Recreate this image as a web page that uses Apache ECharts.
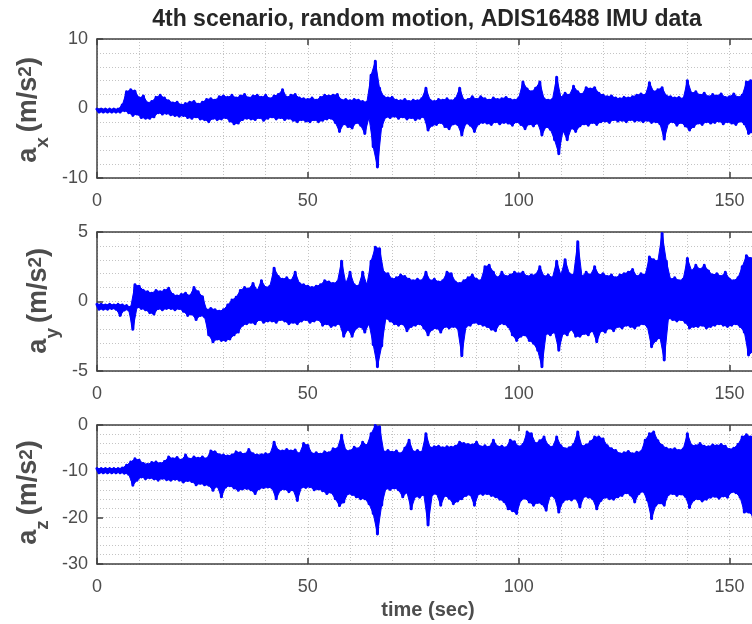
<!DOCTYPE html>
<html>
<head>
<meta charset="utf-8">
<script src="https://cdn.jsdelivr.net/npm/echarts@6/dist/echarts.min.js"></script>
<style>
  html, body { margin: 0; padding: 0; background: #ffffff; }
  #chart { width: 752px; height: 624px; }
</style>
</head>
<body>
<div id="chart"></div>
<script>
// ADIS16488 accelerometer record, 4th scenario (random motion).
// Each channel is kept as a per-second envelope: the upper and lower
// excursion of the signal within every one-second window (t = 0 … 156 s).

const timeTicks = [0, 50, 100, 150];
const timeMax = 156.5;

const axTicks = [-10, 0, 10];
const ayTicks = [-5, 0, 5];
const azTicks = [-30, -20, -10, 0];

const axHi = [
  -0.1, -0.1, -0.1, -0.1, -0.1, -0.1, 0.5, 2.4, 2.7, 2.5,
  1.5, 1.8, 0.8, 1.0, 1.6, 1.9, 1.5, 1.1, 0.8, 0.9,
  0.5, 0.7, 0.9, 1.0, 0.6, 0.9, 1.3, 1.4, 1.2, 1.7,
  1.8, 1.6, 1.9, 1.5, 1.8, 2.0, 1.5, 1.8, 1.9, 1.6,
  1.9, 1.4, 1.8, 2.0, 2.7, 1.6, 1.9, 2.0, 1.5, 1.4,
  1.3, 1.5, 1.2, 1.6, 1.9, 1.8, 1.9, 2.0, 1.2, 1.3,
  1.1, 1.3, 1.2, 1.0, 0.9, 4.8, 6.8, 2.9, 1.7, 1.5,
  1.6, 1.2, 1.1, 1.3, 1.0, 1.2, 1.1, 1.4, 2.9, 1.2,
  1.0, 1.3, 1.2, 1.4, 1.1, 1.4, 2.9, 1.2, 1.3, 1.7,
  1.3, 1.7, 1.4, 1.2, 1.5, 1.3, 1.4, 1.6, 1.3, 1.2,
  1.5, 3.8, 2.8, 2.4, 2.9, 3.8, 1.4, 1.2, 1.3, 4.5,
  1.6, 2.2, 1.9, 3.2, 2.4, 2.0, 3.0, 2.8, 3.0, 2.2,
  1.9, 1.7, 1.8, 1.5, 1.4, 1.6, 1.5, 1.7, 1.9, 2.1,
  1.9, 3.7, 2.4, 2.7, 3.0, 1.8, 1.7, 1.5, 1.6, 1.4,
  4.0, 2.2, 2.4, 1.9, 2.2, 1.7, 2.0, 1.8, 2.1, 1.6,
  1.7, 2.1, 1.6, 1.9, 3.8, 4.0, 2.5
];
const axLo = [
  -0.5, -0.5, -0.5, -0.5, -0.5, -0.5, -0.3, -0.6, -1.0, -0.8,
  -1.3, -1.4, -1.4, -1.2, -0.6, -0.8, -0.7, -0.9, -1.0, -1.1,
  -1.0, -1.3, -1.4, -1.2, -1.5, -1.6, -1.9, -1.4, -1.6, -1.5,
  -1.3, -1.8, -2.2, -2.1, -1.6, -1.4, -1.5, -1.6, -1.3, -1.7,
  -1.4, -1.2, -1.5, -1.3, -1.6, -1.4, -1.7, -1.9, -1.6, -1.8,
  -1.9, -1.6, -1.9, -1.7, -1.5, -1.4, -2.0, -3.3, -2.2, -2.6,
  -2.8, -2.0, -2.4, -3.6, -1.3, -5.5, -8.4, -2.6, -1.2, -1.3,
  -1.1, -1.4, -1.2, -1.5, -1.3, -1.6, -1.4, -1.2, -3.1, -2.4,
  -2.3, -2.0, -2.6, -2.9, -2.2, -2.3, -3.8, -2.1, -2.4, -3.3,
  -2.2, -2.0, -2.1, -2.3, -1.9, -2.2, -2.0, -2.1, -2.4, -1.9,
  -2.3, -2.9, -2.2, -2.5, -2.1, -3.8, -2.6, -3.0, -4.5, -6.5,
  -3.2, -4.5, -2.8, -3.3, -2.5, -2.2, -2.4, -2.0, -2.3, -1.9,
  -1.8, -2.0, -1.6, -1.8, -1.7, -1.9, -1.6, -1.8, -1.7, -1.9,
  -1.7, -2.0, -1.9, -2.2, -4.4, -2.1, -1.9, -2.4, -2.0, -2.5,
  -3.1, -2.6, -2.1, -2.3, -1.9, -2.1, -2.0, -1.8, -2.2, -1.9,
  -2.1, -2.3, -1.8, -2.2, -3.6, -3.4, -2.8
];

const ayHi = [
  -0.2, -0.2, -0.25, -0.2, -0.25, -0.2, -0.25, -0.3, -0.4, 1.2,
  1.1, 0.8, 0.7, 0.6, 0.8, 0.7, 0.8, 0.95, 0.5, 0.4,
  0.5, 0.6, 0.4, 1.0, 0.7, 0.35, -0.6, -0.5, -0.6, -0.7,
  -0.6, -0.25, 0.1, 0.3, 0.8, 1.0, 0.9, 1.3, 0.8, 1.5,
  1.0, 1.1, 2.4, 1.8, 1.6, 1.7, 1.5, 2.1, 1.3, 1.2,
  1.1, 1.0, 1.1, 1.2, 1.5, 1.4, 1.3, 1.4, 2.9, 1.3,
  2.1, 1.2, 1.1, 2.1, 1.2, 2.9, 3.9, 3.8, 2.1, 2.0,
  1.6, 1.7, 1.9, 1.8, 1.6, 1.5, 1.6, 1.5, 2.1, 1.5,
  1.6, 1.4, 1.5, 2.1, 2.0, 1.4, 1.3, 1.5, 1.7, 1.9,
  1.6, 1.5, 2.5, 2.6, 2.1, 1.7, 2.1, 1.8, 1.9, 2.1,
  2.0, 2.1, 1.8, 1.9, 1.9, 2.5, 1.8, 1.9, 1.7, 2.9,
  1.9, 3.0, 2.0, 1.9, 4.3, 1.8, 2.1, 1.9, 2.5, 1.9,
  2.0, 1.8, 1.9, 1.7, 1.9, 2.0, 2.1, 2.3, 1.8, 2.0,
  1.9, 3.2, 3.0, 2.9, 4.9, 2.9, 1.6, 1.7, 1.5, 1.6,
  3.1, 2.2, 2.6, 2.3, 2.6, 2.2, 1.9, 2.0, 1.8, 2.1,
  1.6, 1.5, 1.7, 2.5, 3.3, 3.1, 2.4
];
const ayLo = [
  -0.55, -0.55, -0.55, -0.5, -0.55, -1.0, -0.6, -0.6, -2.0, -0.4,
  -0.5, -0.6, -0.8, -0.9, -0.5, -0.6, -0.5, -0.5, -0.6, -0.5,
  -0.7, -1.0, -0.9, -1.3, -1.0, -1.1, -2.4, -2.9, -2.7, -2.8,
  -2.8, -2.7, -2.4, -2.2, -1.7, -1.6, -1.5, -1.6, -1.3, -1.5,
  -1.4, -1.4, -1.5, -1.3, -1.4, -1.6, -1.5, -1.6, -1.4, -1.3,
  -1.5, -1.4, -1.3, -1.7, -1.6, -1.8, -1.7, -1.6, -2.5, -2.0,
  -2.5, -1.9, -1.8, -2.2, -1.6, -3.1, -4.7, -3.2, -1.2, -1.4,
  -1.6, -1.7, -1.6, -2.1, -1.8, -1.7, -1.6, -1.9, -2.4, -2.0,
  -1.9, -2.2, -1.8, -1.9, -1.8, -1.9, -3.9, -1.8, -1.7, -1.5,
  -1.6, -1.7, -1.8, -2.0, -2.1, -1.6, -1.6, -1.8, -2.4, -2.8,
  -2.5, -2.4, -2.8, -3.0, -3.5, -4.7, -2.3, -2.4, -2.2, -3.5,
  -2.3, -2.4, -2.0, -2.5, -2.5, -2.3, -2.4, -2.1, -2.9, -2.1,
  -2.2, -1.9, -2.1, -1.8, -1.9, -1.7, -1.8, -1.9, -1.7, -1.6,
  -1.8, -3.25, -2.8, -2.6, -4.2, -1.2, -1.3, -1.4, -1.3, -1.5,
  -1.9, -1.8, -1.8, -1.7, -1.9, -1.8, -1.7, -1.6, -1.7, -1.8,
  -1.7, -1.6, -1.8, -2.2, -3.85, -3.6, -2.6
];

const azHi = [
  -9.4, -9.4, -9.4, -9.4, -9.4, -9.4, -9.3, -8.7, -8.0, -7.3,
  -7.6, -8.3, -8.5, -8.1, -8.0, -8.3, -7.9, -6.9, -7.3, -7.0,
  -7.6, -6.5, -7.4, -6.9, -7.2, -6.9, -7.3, -5.6, -5.8, -6.4,
  -6.5, -6.7, -6.5, -5.8, -6.0, -6.3, -5.3, -6.2, -6.5, -6.4,
  -6.2, -6.3, -3.7, -5.5, -5.6, -5.3, -5.6, -5.4, -6.2, -4.0,
  -4.4, -6.2, -6.0, -6.3, -5.8, -6.0, -5.1, -5.1, -2.2, -5.5,
  -5.6, -4.8, -5.1, -3.7, -4.4, -1.9, -0.1, -0.4, -5.8, -5.5,
  -5.9, -5.6, -6.2, -5.0, -3.3, -5.8, -5.5, -5.9, -1.9, -4.9,
  -4.7, -4.6, -4.9, -4.7, -4.8, -4.6, -3.7, -4.0, -4.2, -4.3,
  -3.7, -4.7, -4.5, -4.8, -3.3, -4.7, -4.6, -4.9, -3.3, -3.6,
  -4.7, -4.2, -1.5, -1.9, -4.0, -3.4, -2.6, -4.4, -4.8, -2.6,
  -4.5, -5.1, -4.9, -4.2, -1.5, -4.6, -4.3, -3.6, -2.6, -2.6,
  -3.0, -4.5, -5.1, -5.5, -6.2, -6.0, -5.7, -6.2, -5.9, -5.8,
  -3.3, -1.9, -1.5, -3.4, -4.4, -5.0, -5.3, -5.1, -5.5, -5.2,
  -1.9, -4.4, -4.5, -4.0, -4.6, -4.7, -4.3, -4.5, -4.2, -4.6,
  -5.3, -5.0, -4.2, -2.6, -2.1, -2.6, -3.5
];
const azLo = [
  -10.3, -10.3, -10.3, -10.3, -10.3, -10.3, -10.4, -10.6, -13.0, -11.9,
  -11.2, -11.6, -11.4, -11.6, -11.9, -11.5, -11.8, -11.9, -11.7, -11.9,
  -12.3, -12.0, -12.2, -12.9, -12.6, -12.9, -13.0, -14.1, -13.2, -15.5,
  -13.4, -13.1, -13.6, -14.1, -13.8, -13.7, -14.0, -14.8, -13.7, -13.5,
  -13.4, -13.6, -15.9, -14.0, -13.8, -14.4, -14.0, -16.3, -13.4, -13.5,
  -13.3, -14.0, -13.8, -14.2, -14.8, -14.5, -15.9, -17.4, -16.6, -14.8,
  -15.0, -15.5, -15.9, -15.9, -17.0, -19.1, -23.5, -17.3, -13.7, -13.9,
  -13.6, -14.0, -15.5, -14.5, -18.1, -15.4, -15.6, -15.0, -21.6, -15.0,
  -14.8, -17.3, -15.2, -15.8, -17.0, -16.4, -15.9, -15.2, -15.0, -17.3,
  -14.8, -15.0, -14.8, -15.2, -15.5, -16.0, -16.5, -18.1, -18.5, -19.1,
  -16.2, -15.8, -16.6, -17.3, -16.7, -17.0, -18.4, -15.2, -15.6, -18.8,
  -16.5, -16.0, -16.2, -15.8, -17.7, -15.4, -15.6, -15.9, -18.1, -16.3,
  -15.6, -15.9, -16.0, -15.5, -15.2, -14.6, -15.1, -16.6, -14.8, -14.3,
  -16.2, -20.2, -17.3, -16.8, -17.3, -15.0, -14.8, -15.2, -14.9, -15.4,
  -17.8, -16.2, -15.9, -16.4, -16.0, -15.6, -15.4, -15.8, -15.3, -15.6,
  -14.4, -14.6, -15.6, -18.8, -18.8, -19.5, -17.5
];

// ---------------------------------------------------------------------------

const FONT = '"Liberation Sans", Arial, Helvetica, sans-serif';
const AXIS_COLOR = '#404040';
const LABEL_COLOR = '#4d4d4d';
const GRID_COLOR = '#c4c4c4';
const LINE_BLUE = '#0000ff';

// Dense trace: the upper value at the start of each second and the lower
// value half a second later.
function envelopeTrace(hi, lo) {
  const pts = [];
  for (let i = 0; i < hi.length; i++) {
    pts.push([i, hi[i]]);
    pts.push([i + 0.5, lo[i]]);
  }
  return pts;
}

// Filled body of the trace: one polygon along the upper points and back
// along the lower points, placed through the axis scales.
function bandRenderer(hi, lo) {
  return function (params, api) {
    if (params.dataIndex !== 0) return null;
    const pts = [];
    for (let i = 0; i < hi.length; i++) pts.push(api.coord([i, hi[i]]));
    for (let i = lo.length - 1; i >= 0; i--) pts.push(api.coord([i + 0.5, lo[i]]));
    return {
      type: 'polygon',
      shape: { points: pts },
      style: { fill: LINE_BLUE, stroke: LINE_BLUE, lineWidth: 1 }
    };
  };
}

const panels = [
  { hi: axHi, lo: axLo, ticks: axTicks, sub: 'x', top: 39,  baseX: 36.7, midY: 109.9 },
  { hi: ayHi, lo: ayLo, ticks: ayTicks, sub: 'y', top: 232, baseX: 46.6, midY: 300.8 },
  { hi: azHi, lo: azLo, ticks: azTicks, sub: 'z', top: 425, baseX: 37.3, midY: 492.5 }
];
const PANEL_LEFT = 97;
const PANEL_WIDTH = 660;
const PANEL_HEIGHT = 139;

const dotted = { color: GRID_COLOR, width: 1, type: [1, 2] };

const grids = [], xAxes = [], yAxes = [], series = [];

panels.forEach((p, i) => {
  grids.push({
    left: PANEL_LEFT, top: p.top, width: PANEL_WIDTH, height: PANEL_HEIGHT,
    outerBoundsMode: 'none', show: false
  });

  const step = p.ticks[1] - p.ticks[0];
  const xCommon = {
    gridIndex: i, type: 'value',
    min: timeTicks[0], max: timeMax, interval: timeTicks[1] - timeTicks[0],
    axisLine: { show: true, onZero: false, lineStyle: { color: AXIS_COLOR, width: 1.5 } },
    axisTick: { show: true, inside: true, length: 6, lineStyle: { color: AXIS_COLOR, width: 1.5 } }
  };
  xAxes.push(Object.assign({}, xCommon, {
    position: 'bottom',
    axisLabel: {
      show: true, color: LABEL_COLOR, fontSize: 18, fontFamily: FONT, margin: 14,
      showMaxLabel: false,
      formatter: v => (timeTicks.indexOf(v) >= 0 ? String(v) : '')
    },
    splitLine: { show: true, lineStyle: dotted },
    minorTick: { show: true, splitNumber: 5, length: 0, lineStyle: { width: 0 } },
    minorSplitLine: { show: true, lineStyle: dotted }
  }));
  xAxes.push(Object.assign({}, xCommon, {
    position: 'top',
    axisLabel: { show: false },
    splitLine: { show: false }
  }));

  yAxes.push({
    gridIndex: i, type: 'value', position: 'left',
    min: p.ticks[0], max: p.ticks[p.ticks.length - 1], interval: step,
    axisLine: { show: true, onZero: false, lineStyle: { color: AXIS_COLOR, width: 1.5 } },
    axisTick: { show: true, inside: true, length: 6, lineStyle: { color: AXIS_COLOR, width: 1.5 } },
    axisLabel: { show: true, color: LABEL_COLOR, fontSize: 18, fontFamily: FONT, margin: 9 },
    splitLine: { show: true, lineStyle: dotted },
    minorTick: { show: true, splitNumber: 5, length: 0, lineStyle: { width: 0 } },
    minorSplitLine: { show: true, lineStyle: dotted }
  });

  series.push({
    type: 'custom', xAxisIndex: 2 * i, yAxisIndex: i,
    data: p.hi.map((v, k) => [k, v, p.lo[k]]),
    encode: { x: 0, y: [1, 2] },
    renderItem: bandRenderer(p.hi, p.lo),
    clip: true, silent: true, z: 2
  });
  series.push({
    type: 'line', xAxisIndex: 2 * i, yAxisIndex: i,
    data: envelopeTrace(p.hi, p.lo),
    showSymbol: false, symbol: 'none', sampling: null,
    clip: true, silent: true,
    lineStyle: { color: LINE_BLUE, width: 3, join: 'round', cap: 'round' },
    z: 3
  });
});

// Rotated y-axis titles of the form a_k (m/s^2), with sub/superscripts.
const measureCtx = document.createElement('canvas').getContext('2d');
function textWidth(str, size) {
  measureCtx.font = 'bold ' + size + 'px ' + FONT;
  return measureCtx.measureText(str).width;
}
const MAIN = 27, SMALL = 19;
function yTitle(p) {
  const parts = [
    { t: 'a', s: MAIN, shift: 0 },
    { t: p.sub, s: SMALL, shift: 11.6 },
    { gap: 5 },
    { t: '(m/s', s: MAIN, shift: 0 },
    { t: '2', s: SMALL, shift: -5 },
    { t: ')', s: MAIN, shift: 0 }
  ];
  let total = 0;
  parts.forEach(q => { q.w = q.gap != null ? q.gap : textWidth(q.t, q.s); total += q.w; });
  let pos = -total / 2;
  const children = [];
  parts.forEach(q => {
    if (q.gap == null) {
      children.push({
        type: 'text', x: pos, y: q.shift - 0.31 * q.s,
        style: {
          text: q.t, font: 'bold ' + q.s + 'px ' + FONT, fill: LABEL_COLOR,
          align: 'left', verticalAlign: 'middle'
        }
      });
    }
    pos += q.w;
  });
  return { type: 'group', x: p.baseX, y: p.midY, rotation: Math.PI / 2, children };
}

const graphics = panels.map(yTitle);
graphics.push({
  type: 'text', x: 427, y: 19.5,
  style: {
    text: '4th scenario, random motion, ADIS16488 IMU data',
    font: 'bold 23px ' + FONT, fill: '#262626', align: 'center', verticalAlign: 'middle'
  }
});
graphics.push({
  type: 'text', x: 428, y: 610.5,
  style: {
    text: 'time (sec)', font: 'bold 20px ' + FONT, fill: LABEL_COLOR,
    align: 'center', verticalAlign: 'middle'
  }
});

const chart = echarts.init(document.getElementById('chart'), null, { renderer: 'canvas' });
chart.setOption({
  animation: false,
  backgroundColor: '#ffffff',
  grid: grids,
  xAxis: xAxes,
  yAxis: yAxes,
  series: series,
  graphic: graphics
});
</script>
</body>
</html>
